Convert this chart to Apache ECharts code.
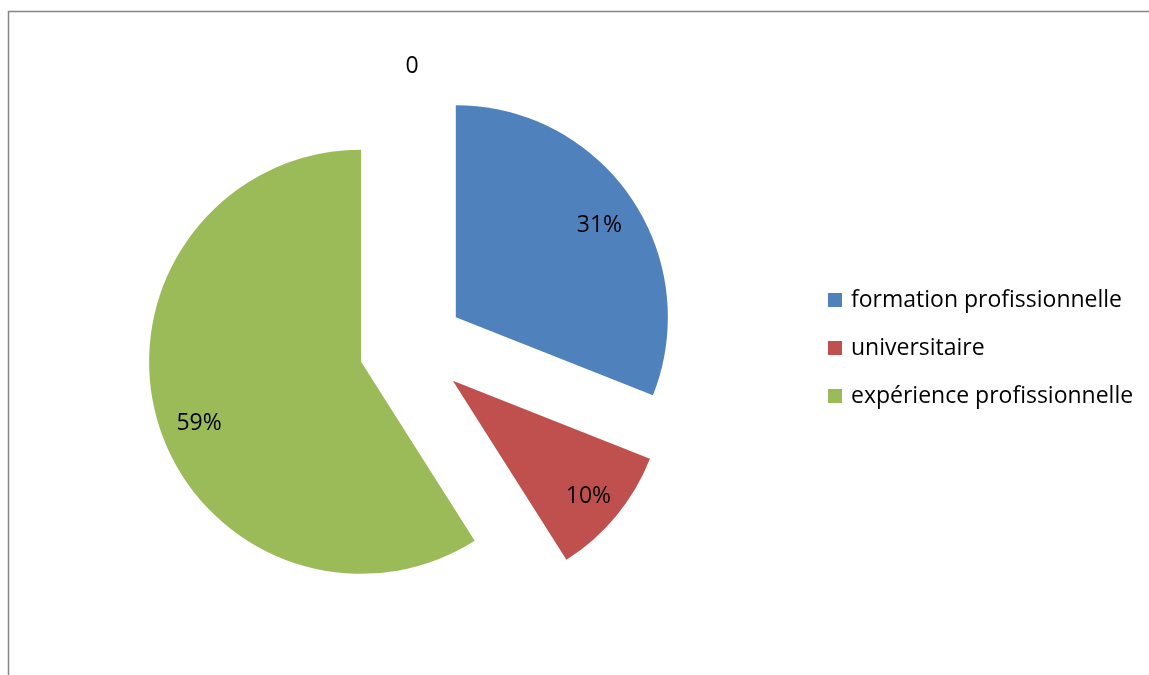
<!DOCTYPE html>
<html>
<head>
<meta charset="utf-8">
<script src="https://cdn.jsdelivr.net/npm/echarts@6/dist/echarts.min.js"></script>
<style>
  html, body { margin: 0; padding: 0; background: #ffffff; }
  #chart { width: 1149px; height: 675px; }
</style>
</head>
<body>
<div id="chart"></div>
<script>
// Pie slices, in clockwise order from 12 o'clock
const categories = ['formation profissionnelle', 'universitaire', 'expérience profissionnelle', ''];
const values = [31, 10, 59, 0];
const colors = ['#4F81BD', '#C0504D', '#9BBB59', '#8064A2'];
const legendNames = categories.slice(0, 3);

const FONT = '"Open Sans", "DejaVu Sans", sans-serif';
const CENTER = [412, 347];
const R = 212;
const EXPLODE = 53;

const chart = echarts.init(document.getElementById('chart'), null, { renderer: 'canvas' });

// Solid slices; only the empty slice carries its value outside the pie
const sliceData = categories.map((name, i) => ({
  name: name,
  value: values[i],
  selected: true,
  itemStyle: { color: colors[i] },
  label: i === 3
    ? { show: true, position: 'outside', formatter: '{c}' }
    : { show: false }
}));

// Transparent ring on top of the slices that places the percentage labels
const labelData = categories.map((name, i) => ({
  name: name,
  value: values[i],
  selected: true,
  label: { show: i !== 3 }
}));

// Small nudges of the percentage labels (best-fit placement)
const labelNudge = [[-2, 7], [0, 3], [7, 13], [0, 0]];

chart.setOption({
  animation: false,
  backgroundColor: '#ffffff',
  legend: {
    data: legendNames,
    orient: 'vertical',
    left: 823,
    top: 283,
    icon: 'rect',
    itemWidth: 14,
    itemHeight: 14,
    itemGap: 24,
    selectedMode: false,
    textStyle: {
      fontFamily: FONT,
      fontSize: 23,
      lineHeight: 24,
      color: '#000000',
      padding: [0, 0, 0, 4]
    }
  },
  graphic: [{
    type: 'rect',
    silent: true,
    shape: { x: 8.5, y: 11.5, width: 1300, height: 800 },
    style: { fill: 'none', stroke: '#868686', lineWidth: 1.5 }
  }],
  series: [
    {
      type: 'pie',
      center: CENTER,
      radius: R,
      startAngle: 90,
      clockwise: true,
      selectedMode: 'multiple',
      selectedOffset: EXPLODE,
      avoidLabelOverlap: false,
      silent: true,
      emphasis: { disabled: true },
      label: {
        fontFamily: FONT,
        fontSize: 23,
        color: '#000000',
        distanceToLabelLine: 0
      },
      labelLine: { show: false, length: 16, length2: 0 },
      labelLayout: function () {
        return { align: 'center' };
      },
      data: sliceData
    },
    {
      type: 'pie',
      center: CENTER,
      radius: [134, R],
      startAngle: 90,
      clockwise: true,
      selectedMode: 'multiple',
      selectedOffset: EXPLODE,
      avoidLabelOverlap: false,
      silent: true,
      emphasis: { disabled: true },
      itemStyle: { color: 'rgba(0,0,0,0)' },
      label: {
        position: 'inside',
        formatter: '{d}%',
        fontFamily: FONT,
        fontSize: 23,
        color: '#000000'
      },
      labelLine: { show: false },
      labelLayout: function (p) {
        const n = labelNudge[p.dataIndex] || [0, 0];
        return { dx: n[0], dy: n[1] };
      },
      data: labelData
    }
  ]
});
</script>
</body>
</html>
